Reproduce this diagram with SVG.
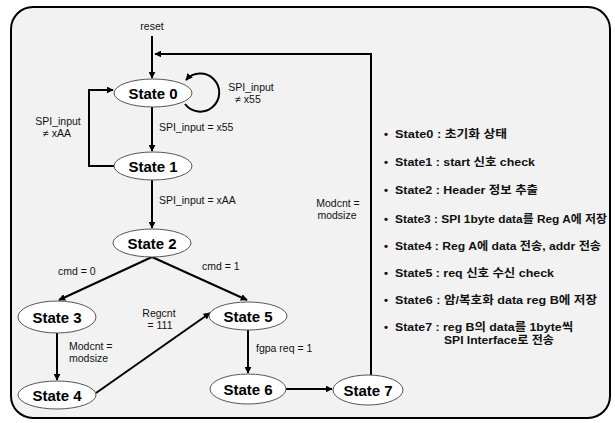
<svg xmlns="http://www.w3.org/2000/svg" width="615" height="423" viewBox="0 0 615 423">
<defs>
<marker id="arr" viewBox="0 0 10 10" refX="9" refY="5" markerWidth="7" markerHeight="7" markerUnits="userSpaceOnUse" orient="auto">
<path d="M0,0 L10,5 L0,10 z" fill="#000"/>
</marker>
<style>
.node ellipse{fill:#fff;stroke:#555;stroke-width:1}
.node text{font-family:"Liberation Sans","Noto Sans CJK KR",sans-serif;font-weight:bold;font-size:15px;text-anchor:middle;fill:#000}
.edge{fill:none;stroke:#000;stroke-width:2}
.lbl{font-family:"Liberation Sans","Noto Sans CJK KR",sans-serif;font-size:10.5px;fill:#111}
.lst{font-family:"Liberation Sans","Noto Sans CJK KR",sans-serif;font-weight:bold;font-size:11.5px;fill:#111}
</style>
</defs>
<rect x="0" y="0" width="615" height="423" fill="#fff"/>
<rect x="11" y="7" width="599" height="411" rx="22" ry="22" fill="#f2f2f2" stroke="#000" stroke-width="2"/>

<g id="connectors">
<path class="edge" d="M152,36 L152,78" marker-end="url(#arr)"/>
<path class="edge" d="M371,375 L371,54 L155,54" marker-end="url(#arr)"/>
<path class="edge" d="M185,104 A19,19 0 1 0 186,80" marker-end="url(#arr)"/>
<path class="edge" d="M152,107 L152,151" marker-end="url(#arr)"/>
<path class="edge" d="M114,166 L89,166 L89,90 L113,90" marker-end="url(#arr)"/>
<path class="edge" d="M152,180 L152,228" marker-end="url(#arr)"/>
<path class="edge" d="M152,257 L59,300" marker-end="url(#arr)"/>
<path class="edge" d="M152,257 L247,300" marker-end="url(#arr)"/>
<path class="edge" d="M57,333 L57,380" marker-end="url(#arr)"/>
<path class="edge" d="M96,393 L210,313" marker-end="url(#arr)"/>
<path class="edge" d="M248,330 L248,373" marker-end="url(#arr)"/>
<path class="edge" d="M286,389 L332,389" marker-end="url(#arr)"/>
</g>

<g id="labels">
<text class="lbl" x="152" y="30" text-anchor="middle">reset</text>
<text class="lbl" x="251" y="91" text-anchor="middle">SPI_input</text>
<text class="lbl" x="248" y="103" text-anchor="middle">≠ x55</text>
<text class="lbl" x="58" y="125" text-anchor="middle">SPI_input</text>
<text class="lbl" x="57" y="137" text-anchor="middle">≠ xAA</text>
<text class="lbl" x="159" y="131">SPI_input = x55</text>
<text class="lbl" x="159" y="204">SPI_input = xAA</text>
<text class="lbl" x="58" y="275">cmd = 0</text>
<text class="lbl" x="202" y="270">cmd = 1</text>
<text class="lbl" x="159" y="317" text-anchor="middle">Regcnt</text>
<text class="lbl" x="160" y="329" text-anchor="middle">= 111</text>
<text class="lbl" x="69" y="350">Modcnt =</text>
<text class="lbl" x="69" y="362">modsize</text>
<text class="lbl" x="256" y="352">fgpa req = 1</text>
<text class="lbl" x="338" y="207" text-anchor="middle">Modcnt =</text>
<text class="lbl" x="337" y="219" text-anchor="middle">modsize</text>
</g>

<g id="state0" class="node"><ellipse cx="153" cy="93" rx="39" ry="14"/><text x="153" y="99">State 0</text></g>
<g id="state1" class="node"><ellipse cx="153" cy="166" rx="39" ry="14"/><text x="153" y="172">State 1</text></g>
<g id="state2" class="node"><ellipse cx="152" cy="243" rx="39" ry="14"/><text x="152" y="249">State 2</text></g>
<g id="state3" class="node"><ellipse cx="57" cy="317" rx="39" ry="16"/><text x="57" y="323">State 3</text></g>
<g id="state4" class="node"><ellipse cx="57" cy="395" rx="39" ry="14"/><text x="57" y="401">State 4</text></g>
<g id="state5" class="node"><ellipse cx="248" cy="316" rx="39" ry="14"/><text x="248" y="322">State 5</text></g>
<g id="state6" class="node"><ellipse cx="248" cy="389" rx="38" ry="15"/><text x="248" y="395">State 6</text></g>
<g id="state7" class="node"><ellipse cx="368" cy="390" rx="35" ry="15"/><text x="368" y="396">State 7</text></g>

<g id="legend">
<text class="lst" x="384" y="138">•</text><text class="lst" x="395" y="138" textLength="112" lengthAdjust="spacingAndGlyphs">State0 : 초기화 상태</text>
<text class="lst" x="384" y="166">•</text><text class="lst" x="395" y="166" textLength="140" lengthAdjust="spacingAndGlyphs">State1 : start 신호 check</text>
<text class="lst" x="384" y="194">•</text><text class="lst" x="395" y="194" textLength="143" lengthAdjust="spacingAndGlyphs">State2 : Header 정보 추출</text>
<text class="lst" x="384" y="223">•</text><text class="lst" x="395" y="223" textLength="212" lengthAdjust="spacingAndGlyphs">State3 : SPI 1byte data를 Reg A에 저장</text>
<text class="lst" x="384" y="250">•</text><text class="lst" x="395" y="250" textLength="206" lengthAdjust="spacingAndGlyphs">State4 : Reg A에 data 전송, addr 전송</text>
<text class="lst" x="384" y="277">•</text><text class="lst" x="395" y="277" textLength="159" lengthAdjust="spacingAndGlyphs">State5 : req 신호 수신 check</text>
<text class="lst" x="384" y="304">•</text><text class="lst" x="395" y="304" textLength="202" lengthAdjust="spacingAndGlyphs">State6 : 암/복호화 data reg B에 저장</text>
<text class="lst" x="384" y="331">•</text><text class="lst" x="395" y="331" textLength="178" lengthAdjust="spacingAndGlyphs">State7 : reg B의 data를 1byte씩</text>
<text class="lst" x="444" y="344" textLength="110" lengthAdjust="spacingAndGlyphs">SPI Interface로 전송</text>
</g>
</svg>
